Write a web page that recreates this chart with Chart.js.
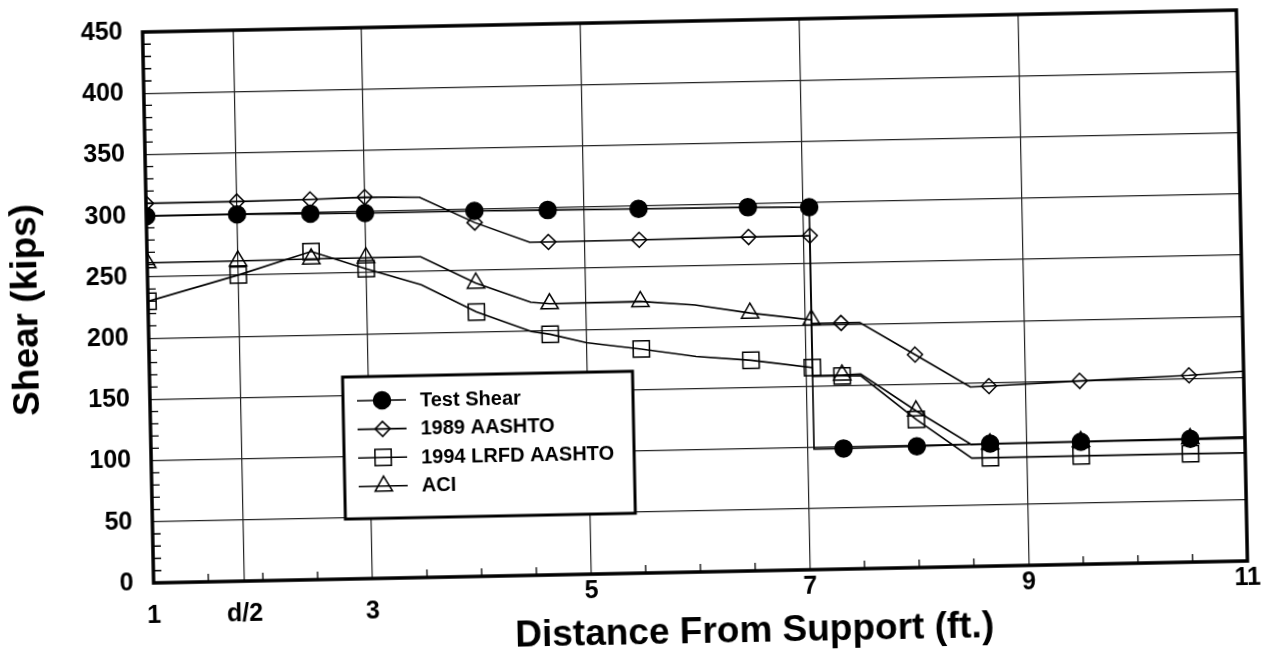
<!DOCTYPE html>
<html>
<head>
<meta charset="utf-8">
<title>Shear vs distance from support</title>
<script src="https://cdn.jsdelivr.net/npm/chart.js@4.4.1/dist/chart.umd.min.js"></script>
<style>
  html, body { margin: 0; padding: 0; background: #fff; overflow: hidden; }
  /* the scanned figure sits slightly tilted on the page */
  #chart { display: block; transform: rotate(-1.15deg); transform-origin: 695px 297px; }
</style>
</head>
<body>
<canvas id="chart" width="1275" height="663"></canvas>
<script>
// distance from support (ft), shared by all curves; 7.06 twice = vertical step
const distance = [1, 1.83, 2.5, 3, 3.5, 4, 4.5, 4.67, 5, 5.5, 6, 6.5, 7.06, 7.06, 7.33, 7.5, 8, 8.5, 8.67, 9.5, 10.5, 11];
// 1 = symbol drawn, 0 = just a bend in the line
const hasMarker = [1, 1, 1, 1, 0, 1, 0, 1, 0, 1, 0, 1, 1, 0, 1, 0, 1, 0, 1, 1, 1, 0];

const testShear  = [299.5, 299.5, 299, 298.5, null, 298.5, null, 298, null, 297.5, null, 297, 296, 98.5, 98.5, null, 99, null, 100, 100, 100.7, 101.3];
const aashto1989 = [310, 310, 310.5, 311.5, 310.5, 289, 272, 272, null, 272.2, null, 272.7, 272.8, 201, 201, 201, 174, 146.6, 147, 149.8, 152.5, 155];
const lrfd1994   = [230, 250, 268, 253, 239, 216, 199, 196.5, 189, 183, 176, 172, 165, 157.8, 157.8, 157.5, 121, 88.5, 88.5, 88.5, 88.5, 88.3];
const aci        = [261.5, 261.5, 262, 262, 262, 239.5, 223, 221.5, null, 221.8, 218, 210.6, 204, 158.5, 158.5, 159, 128, 99.5, 99.8, 100.2, 100.8, 101.3];

const seriesNames = ["Test Shear", "1989 AASHTO", "1994 LRFD AASHTO", "ACI"];

const xTickValues = [1, 1.83, 3, 5, 7, 9, 11];
const xTickLabels = ["1", "d/2", "3", "5", "7", "9", "11"];

const FONT = '"Liberation Sans", Arial, Helvetica, sans-serif';
Chart.defaults.font.family = FONT;
Chart.defaults.color = "#000";

function makeSeries(label, values, style, radius, fill) {
    return {
        label,
        data: distance.map((x, i) => ({ x, y: values[i] })),
        borderColor: "#000",
        borderWidth: 1.6,
        tension: 0,
        spanGaps: true,
        pointStyle: style,
        pointRadius: hasMarker.map(m => (m ? radius : 0)),
        pointBackgroundColor: fill,
        pointBorderColor: "#000",
        pointBorderWidth: 1.5
    };
}

const datasets = [
    makeSeries(seriesNames[0], testShear, "circle", 8.5, "#000"),
    makeSeries(seriesNames[1], aashto1989, "rectRot", 7.5, "rgba(0,0,0,0)"),
    makeSeries(seriesNames[2], lrfd1994, "rect", 11.5, "rgba(0,0,0,0)"),
    makeSeries(seriesNames[3], aci, "triangle", 10, "rgba(0,0,0,0)")
];

// thick box around the plot + short inside ticks on the left and bottom axes
const framePlugin = {
    id: "frame",
    beforeDatasetsDraw(chart) {
        const { ctx, chartArea: a, scales: { x, y } } = chart;
        ctx.save();
        ctx.strokeStyle = "#000";
        ctx.lineWidth = 1.3;
        ctx.beginPath();
        for (let v = 10; v < 450; v += 10) {
            if (v % 50 === 0) continue;
            const py = y.getPixelForValue(v);
            ctx.moveTo(a.left, py);
            ctx.lineTo(a.left + 8, py);
        }
        for (let v = 1.5; v < 11; v += 0.5) {
            if (v % 2 === 1) continue;
            const px = x.getPixelForValue(v);
            ctx.moveTo(px, a.bottom);
            ctx.lineTo(px, a.bottom - 8);
        }
        ctx.stroke();
        ctx.lineWidth = 3.5;
        ctx.strokeRect(a.left, a.top, a.right - a.left, a.bottom - a.top);
        ctx.restore();
    }
};

// boxed legend inside the plot and the x axis title
const legendPlugin = {
    id: "boxLegend",
    afterDraw(chart) {
        const { ctx, chartArea: a } = chart;
        const left = a.left + 193, top = a.top + 349, w = 290, h = 142;
        ctx.save();
        ctx.fillStyle = "#fff";
        ctx.fillRect(left, top, w, h);
        ctx.strokeStyle = "#000";
        ctx.lineWidth = 3;
        ctx.strokeRect(left, top, w, h);

        chart.data.datasets.forEach((ds, i) => {
            const cy = top + 24 + i * 28.6;
            ctx.strokeStyle = "#000";
            ctx.lineWidth = 1.6;
            ctx.beginPath();
            ctx.moveTo(left + 14, cy);
            ctx.lineTo(left + 63, cy);
            ctx.stroke();
            ctx.fillStyle = ds.pointBackgroundColor;
            ctx.lineWidth = 1.5;
            const r = Math.max(...ds.pointRadius);
            Chart.helpers.drawPoint(ctx, { pointStyle: ds.pointStyle, radius: r, rotation: 0, borderWidth: 1.5 }, left + 39, cy);
            ctx.fillStyle = "#000";
            ctx.font = "bold 20px " + FONT;
            ctx.textAlign = "left";
            ctx.textBaseline = "middle";
            ctx.fillText(ds.label, left + 77, cy + 1);
        });

        ctx.fillStyle = "#000";
        ctx.font = "bold 37px " + FONT;
        ctx.textAlign = "center";
        ctx.textBaseline = "middle";
        ctx.fillText("Distance From Support (ft.)", a.left + 600, a.bottom + 61);
        ctx.restore();
    }
};

new Chart(document.getElementById("chart"), {
    type: "line",
    data: { datasets },
    options: {
        responsive: false,
        animation: false,
        layout: { padding: { top: 21, right: 33, bottom: 0, left: 0 } },
        plugins: {
            legend: { display: false },
            tooltip: { enabled: false }
        },
        scales: {
            x: {
                type: "linear",
                min: 1,
                max: 11,
                afterBuildTicks: axis => { axis.ticks = xTickValues.map(v => ({ value: v })); },
                afterFit: axis => { axis.height = 91; },
                border: { display: false },
                grid: { color: "#222", lineWidth: 1.2, drawTicks: false },
                ticks: {
                    autoSkip: false,
                    maxRotation: 0,
                    padding: 9,
                    font: { size: 25, weight: "bold", lineHeight: "16px" },
                    callback: value => {
                        const label = xTickLabels[xTickValues.indexOf(value)];
                        // the first three labels sit a row lower in the original
                        return value <= 3 ? ["", label] : label;
                    }
                }
            },
            y: {
                min: 0,
                max: 450,
                afterFit: axis => {
                    axis.width = 148;
                    axis.paddingTop = 0;
                    axis.paddingBottom = 0;
                },
                border: { display: false },
                grid: { color: "#222", lineWidth: 1.2, drawTicks: false },
                ticks: { stepSize: 50, padding: 20, font: { size: 25, weight: "bold" } },
                title: {
                    display: true,
                    text: "Shear (kips)",
                    padding: { top: 5, bottom: 0 },
                    font: { size: 37, weight: "bold" }
                }
            }
        }
    },
    plugins: [framePlugin, legendPlugin]
});
</script>
</body>
</html>
